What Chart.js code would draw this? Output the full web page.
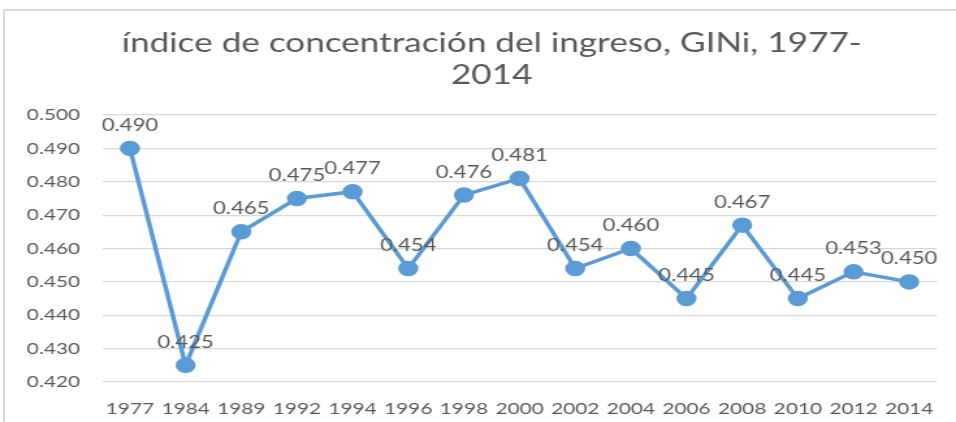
<!DOCTYPE html>
<html>
<head>
<meta charset="utf-8">
<script src="https://cdn.jsdelivr.net/npm/chart.js@4"></script>
<style>
  html, body { margin: 0; padding: 0; background: #fff; overflow: hidden; }
  #frame { position: absolute; left: 3px; top: 9px; width: 1000px; height: 500px; border: 2px solid #d9d9d9; }
  #giniChart { position: absolute; left: 0; top: 0; }
</style>
</head>
<body>
<div id="frame"></div>
<!-- drawn at 735 px wide and stretched to 956 px, like the reference -->
<canvas id="giniChart" width="735" height="422" style="width:956px;height:422px;"></canvas>
<script>
const years = ['1977', '1984', '1989', '1992', '1994', '1996', '1998', '2000', '2002', '2004', '2006', '2008', '2010', '2012', '2014'];
const gini = [0.490, 0.425, 0.465, 0.475, 0.477, 0.454, 0.476, 0.481, 0.454, 0.460, 0.445, 0.467, 0.445, 0.453, 0.450];
const yTicks = [0.420, 0.430, 0.440, 0.450, 0.460, 0.470, 0.480, 0.490, 0.500];
const titleLines = ['índice de concentración del ingreso, GINi, 1977-', '2014'];

const textColor = '#595959';
const fontFamily = 'Lato, "Open Sans", sans-serif';

// title, drawn by hand so it can sit a little right of the canvas centre
const chartTitle = {
    id: 'chartTitle',
    afterDraw(chart) {
        const ctx = chart.ctx;
        ctx.save();
        ctx.font = '27px ' + fontFamily;
        ctx.fillStyle = textColor;
        ctx.textAlign = 'center';
        ctx.textBaseline = 'middle';
        titleLines.forEach((line, i) => {
            ctx.fillText(line, 378, 43 + i * 32);
        });
        ctx.restore();
    },
};

// value labels above each point
const pointLabels = {
    id: 'pointLabels',
    afterDatasetsDraw(chart) {
        const ctx = chart.ctx;
        const meta = chart.getDatasetMeta(0);
        ctx.save();
        ctx.font = '17px ' + fontFamily;
        ctx.fillStyle = textColor;
        ctx.textAlign = 'center';
        ctx.textBaseline = 'middle';
        meta.data.forEach((pt, i) => {
            ctx.fillText(gini[i].toFixed(3), pt.x, pt.y - 23);
        });
        ctx.restore();
    },
};

new Chart(document.getElementById('giniChart'), {
    type: 'line',
    data: {
        labels: years,
        datasets: [
            {
                data: gini,
                borderColor: '#5b9bd5',
                backgroundColor: '#5b9bd5',
                borderWidth: 3.5,
                pointRadius: 6,
                pointHoverRadius: 6,
                tension: 0,
            },
        ],
    },
    options: {
        responsive: false,
        devicePixelRatio: 1,
        animation: false,
        layout: {
            padding: { left: 0, right: 13.5, top: 115, bottom: 0 },
        },
        plugins: {
            legend: { display: false },
            tooltip: { enabled: false },
            title: { display: false },
        },
        scales: {
            x: {
                offset: true,
                grid: { display: false, drawTicks: false },
                border: { display: false },
                ticks: {
                    color: textColor,
                    font: { family: fontFamily, size: 16 },
                    padding: 17,
                    maxRotation: 0,
                    autoSkip: false,
                },
                afterFit(scale) { scale.height = 40; },
            },
            y: {
                min: 0.42,
                max: 0.5,
                grid: { color: '#d9d9d9', lineWidth: 1.2, drawTicks: false },
                border: { display: false },
                ticks: {
                    color: textColor,
                    font: { family: fontFamily, size: 16 },
                    padding: 17,
                    callback: (v) => v.toFixed(3),
                },
                afterBuildTicks(scale) {
                    scale.ticks = yTicks.map((v) => ({ value: v }));
                },
                afterFit(scale) { scale.width = 78.5; },
            },
        },
    },
    plugins: [pointLabels, chartTitle],
});
</script>
</body>
</html>
